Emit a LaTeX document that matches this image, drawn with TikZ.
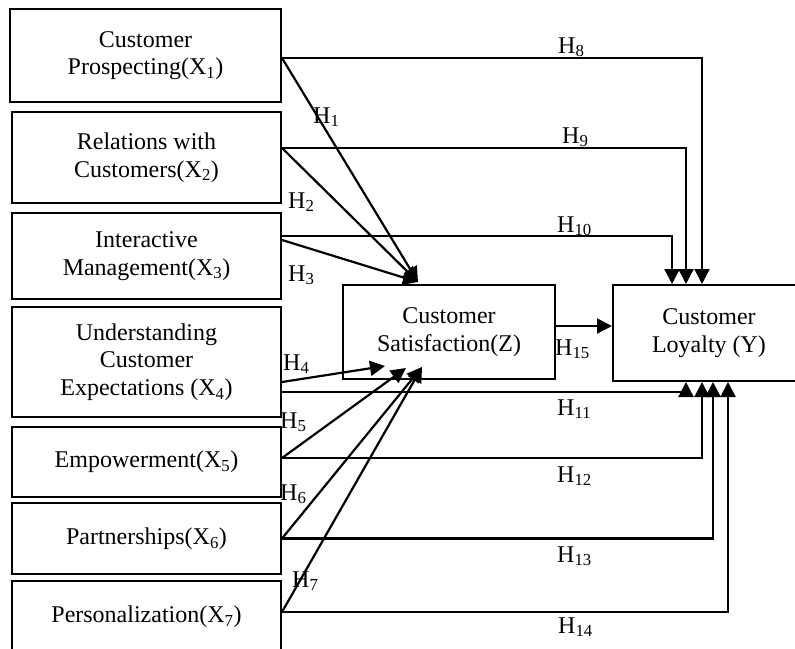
\documentclass[tikz,border=0pt]{standalone}
\usepackage{fontspec}
\setmainfont{Liberation Serif}
\usetikzlibrary{arrows.meta,calc}
\begin{document}
\begin{tikzpicture}[x=1pt,y=-1pt,
  box/.style={draw,line width=2pt,align=center,inner sep=0pt,font=\fontsize{24}{27.5}\selectfont},
  conn/.style={line width=2.2pt},
  arr/.style={conn,-{Triangle[length=15pt,width=15pt]}},
  hl/.style={anchor=base west,inner sep=0pt,font=\fontsize{24}{27.5}\selectfont}]
\clip (0,0) rectangle (795,648);
\useasboundingbox (0,0) rectangle (795,648);
% boxes
\node[box,minimum width=271pt,minimum height=93pt] (x1) at (145.5,55.5) {Customer\\Prospecting(X\textsubscript{1})};
\node[box,minimum width=269pt,minimum height=91pt] (x2) at (146.5,157.5) {Relations with\\Customers(X\textsubscript{2})};
\node[box,minimum width=269pt,minimum height=86pt] (x3) at (146.5,256) {Interactive\\Management(X\textsubscript{3})};
\node[box,minimum width=269pt,minimum height=110pt] (x4) at (146.5,362) {Understanding\\Customer\\Expectations (X\textsubscript{4})};
\node[box,minimum width=269pt,minimum height=70pt] (x5) at (146.5,462) {Empowerment(X\textsubscript{5})};
\node[box,minimum width=269pt,minimum height=71pt] (x6) at (146.5,538.5) {Partnerships(X\textsubscript{6})};
\node[box,minimum width=269pt,minimum height=72pt] (x7) at (146.5,617) {Personalization(X\textsubscript{7})};
\node[box,minimum width=212pt,minimum height=94pt] (z) at (449,332) {Customer\\Satisfaction(Z)};
\node[box,minimum width=192pt,minimum height=96pt] (y) at (709,333) {Customer\\Loyalty (Y)};
% to Z
\draw[arr] ([yshift=-2.5pt]x1.east) -- ([xshift=-31pt,yshift=2pt]z.north);
\draw[arr] ([yshift=9.5pt]x2.east) -- ([xshift=-31pt,yshift=2pt]z.north);
\draw[arr] ([yshift=16pt]x3.east) -- ([xshift=-31pt,yshift=2pt]z.north);
\draw[arr] ([yshift=-20pt]x4.east) -- ([xshift=43pt,yshift=14pt]z.south west);
\draw[arr] ([yshift=4pt]x5.east) -- ([xshift=64pt,yshift=12pt]z.south west);
\draw[arr] (x6.east) -- ([xshift=80pt,yshift=13pt]z.south west);
\draw[arr] ([yshift=5pt]x7.east) -- ([xshift=80pt,yshift=13pt]z.south west);
% to Y
\draw[arr] ([yshift=-2.5pt]x1.east) -| ([xshift=-7pt]y.north);
\draw[arr] ([yshift=9.5pt]x2.east) -| ([xshift=-23pt]y.north);
\draw[arr] ([yshift=20pt]x3.east) -| ([xshift=-37pt]y.north);
\draw[arr] ([yshift=-30pt]x4.east) -| ([xshift=-23pt]y.south);
\draw[arr] ([yshift=4pt]x5.east) -| ([xshift=-7pt]y.south);
\draw[arr] (x6.east) -| ([xshift=4pt]y.south);
\draw[arr] ([yshift=5pt]x7.east) -| ([xshift=19pt]y.south);
\draw[arr] ([yshift=6pt]z.east) -- ([yshift=6pt]z.east -| y.west);
% labels
\node[hl] (h1) at (313,123) {H\textsubscript{1}};
\node[hl] (h2) at (288,208) {H\textsubscript{2}};
\node[hl] (h3) at (288,281) {H\textsubscript{3}};
\node[hl] (h4) at (283,370) {H\textsubscript{4}};
\node[hl] (h5) at (280,428) {H\textsubscript{5}};
\node[hl] (h6) at (280,500) {H\textsubscript{6}};
\node[hl] (h7) at (292,587) {H\textsubscript{7}};
\node[hl] (h8) at (558,53) {H\textsubscript{8}};
\node[hl] (h9) at (562,143) {H\textsubscript{9}};
\node[hl] (h10) at (557,232) {H\textsubscript{10}};
\node[hl] (h11) at (557,415) {H\textsubscript{11}};
\node[hl] (h12) at (557,482) {H\textsubscript{12}};
\node[hl] (h13) at (557,562) {H\textsubscript{13}};
\node[hl] (h14) at (558,633) {H\textsubscript{14}};
\node[hl] (h15) at (555,355) {H\textsubscript{15}};
\end{tikzpicture}
\end{document}
